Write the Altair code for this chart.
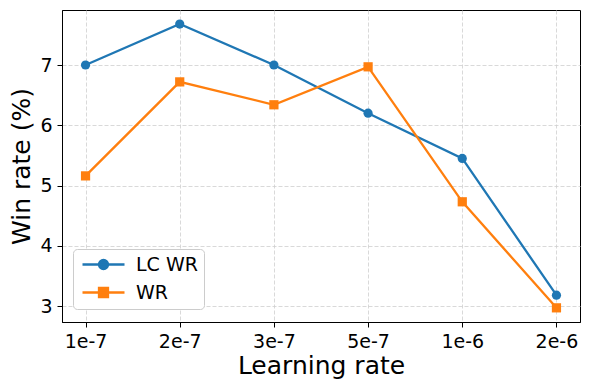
import altair as alt
import pandas as pd

learning_rates = ["1e-7", "2e-7", "3e-7", "5e-7", "1e-6", "2e-6"]
series_names = ["LC WR", "WR"]
lc_wr = [7.00, 7.68, 7.00, 6.20, 5.45, 3.18]
wr = [5.16, 6.72, 6.34, 6.97, 4.73, 2.97]
colors = ["#1f77b4", "#ff7f0e"]
y_ticks = [3, 4, 5, 6, 7]

df = pd.DataFrame({
    "lr": learning_rates * 2,
    "series": [series_names[0]] * len(lc_wr) + [series_names[1]] * len(wr),
    "value": lc_wr + wr,
})

FONT = "DejaVu Sans"
# legend glyphs: line segment with the series marker on it
CIRC_PATH = "M-4.2,0H4.2M-0.9,0A0.9,0.9,0,1,1,0.9,0A0.9,0.9,0,1,1,-0.9,0Z"
SQ_PATH = "M-4.2,0H4.2M-0.9,-0.9H0.9V0.9H-0.9Z"

x_enc = alt.X(
    "lr:O",
    sort=learning_rates,
    scale=alt.Scale(type="point", padding=0.25),
    axis=alt.Axis(title="Learning rate", labelAngle=0, titlePadding=2, labelPadding=5),
)
y_enc = alt.Y(
    "value:Q",
    scale=alt.Scale(domain=[2.735, 7.913], nice=False, zero=False),
    axis=alt.Axis(title="Win rate (%)", values=y_ticks, titlePadding=5, labelPadding=5),
)

layers = []
for i, s in enumerate(series_names):
    base = alt.Chart(df).transform_filter(alt.datum.series == s)
    color_enc = alt.Color(
        "series:N",
        scale=alt.Scale(domain=series_names, range=colors),
        legend=None,
    )
    line = base.mark_line(strokeWidth=2.3).encode(x=x_enc, y=y_enc, color=color_enc)
    pts = base.mark_point(filled=True, size=85, opacity=1).encode(
        x=x_enc,
        y=y_enc,
        color=color_enc,
        shape=alt.Shape("series:N", scale=alt.Scale(domain=series_names, range=["circle", "square"]), legend=None),
    )
    layers += [line, pts]

legend = alt.Legend(
    title=None,
    orient="none",
    legendX=11,
    legendY=239,
    fillColor="white",
    strokeColor="#cccccc",
    cornerRadius=4,
    padding=6,
    labelFont=FONT,
    labelFontSize=19,
    labelColor="black",
    symbolSize=100,
    symbolStrokeWidth=2.3,
    symbolOpacity=1,
    symbolOffset=15,
    labelOffset=23,
    rowPadding=8,
)

legend_layer = alt.Chart(df).transform_filter("false").mark_point(
    filled=True, size=100, strokeWidth=2.3, opacity=1
).encode(
    x=x_enc,
    y=y_enc,
    fill=alt.Fill("series:N", scale=alt.Scale(domain=series_names, range=colors), legend=legend),
    stroke=alt.Stroke("series:N", scale=alt.Scale(domain=series_names, range=colors), legend=legend),
    shape=alt.Shape("series:N", scale=alt.Scale(domain=series_names, range=[CIRC_PATH, SQ_PATH]), legend=legend),
)
layers.append(legend_layer)

chart = alt.layer(*layers).resolve_scale(
    color="independent", shape="independent", fill="independent", stroke="independent"
).properties(
    width=518,
    height=312,
    autosize=alt.AutoSizeParams(type="none"),
    padding={"left": 54, "top": 2, "right": 1, "bottom": 60},
).configure_view(
    stroke="black", strokeWidth=1
).configure_axis(
    labelFont=FONT,
    labelFontSize=19,
    labelColor="black",
    titleFont=FONT,
    titleFontSize=25,
    titleFontWeight="normal",
    titleColor="black",
    domainColor="black",
    tickColor="black",
    tickSize=5,
    tickWidth=1,
    grid=True,
    gridColor="#cfcfcf",
    gridDash=[4, 2],
    gridWidth=0.8,
)

chart.save("out.html", embed_options={"renderer": "svg", "actions": False})
